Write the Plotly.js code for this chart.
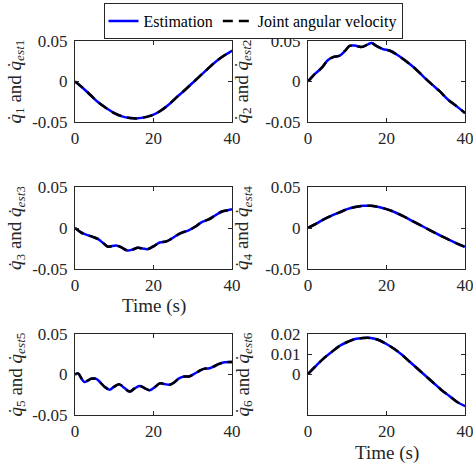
<!DOCTYPE html>
<html>
<head>
<meta charset="utf-8">
<script src="https://cdn.plot.ly/plotly-3.0.1.min.js"></script>
<style>html,body{margin:0;padding:0;background:#fff;}#chart{width:473px;height:464px;}</style>
</head>
<body>
<div id="chart"></div>
<script>
// ---- data ----
const t1 = [0,2,4,6,8,10,12,14,16,18,20,22,24,26,28,30,32,34,36,38,40];
const q1 = [0,-0.008,-0.017,-0.026,-0.033,-0.039,-0.043,-0.045,-0.0455,-0.044,-0.041,-0.0355,-0.028,-0.019,-0.0105,-0.0015,0.0075,0.0165,0.025,0.032,0.038];

const t2 = [0,1.7,3.4,5.1,6.4,8.1,9.4,10.6,11.9,13.6,15.3,16.2,17.4,19.1,20.9,23,25.1,27.2,29.4,31.5,33.6,35.7,37.9,40];
const q2 = [0,0.009,0.0164,0.0266,0.030,0.032,0.0377,0.0439,0.0443,0.0426,0.0459,0.0475,0.0439,0.040,0.038,0.032,0.0246,0.0164,0.0061,-0.0033,-0.0123,-0.0225,-0.0307,-0.039];

const t3 = [0,1.5,2.8,4.5,5.8,7.1,8.3,10.5,11.7,13.4,14.7,16,17.3,18.5,20.3,21.6,23.2,24.5,25.8,27.1,28.8,30.5,32.2,33.9,35.6,37.3,38.6,40];
const q3 = [0,-0.0053,-0.008,-0.0109,-0.0133,-0.018,-0.0226,-0.0214,-0.0234,-0.0274,-0.0262,-0.0242,-0.025,-0.0258,-0.0214,-0.0177,-0.0165,-0.0133,-0.0093,-0.006,-0.0032,0.0012,0.0069,0.0101,0.0149,0.0198,0.0214,0.023];

const t4 = [0,2,4,6,8,10,12,14,16,18,20,22,24,26,28,30,32,34,36,38,40];
const q4 = [0,0.005,0.0105,0.015,0.019,0.023,0.0255,0.027,0.027,0.0255,0.023,0.0195,0.015,0.010,0.005,0.000,-0.005,-0.010,-0.0145,-0.019,-0.023];

const t5 = [0,0.85,1.5,2.4,3.2,4.1,5.4,6.6,7.5,8.8,10,11.3,12.6,13.9,15.1,16.4,17.7,19,20.3,21.6,22.8,24.1,25.4,26.6,27.9,29.1,30.4,31.7,33,34.3,35.5,36.9,38.1,40];
const q5 = [0,0.001,-0.0037,-0.0093,-0.0077,-0.0053,-0.0053,-0.0106,-0.015,-0.0187,-0.015,-0.0122,-0.0167,-0.0211,-0.0175,-0.0142,-0.0167,-0.0195,-0.0158,-0.011,-0.0118,-0.0126,-0.0093,-0.0045,-0.0024,-0.0024,0.0008,0.0045,0.0073,0.0077,0.0102,0.0134,0.015,0.0154];

const t6 = [0,2,4,6,8,10,12,14,16,18,20,22,24,26,28,30,32,34,36,38,40];
const q6 = [0,0.004,0.0078,0.011,0.014,0.016,0.0175,0.018,0.018,0.017,0.015,0.0125,0.0095,0.006,0.0025,-0.001,-0.0045,-0.008,-0.011,-0.014,-0.016];

const seriesNames = ["Estimation", "Joint angular velocity"];
const xTicks = [0, 20, 40];
const yTicksA = [-0.05, 0, 0.05];
const yTickTextA = ["-0.05", "0", "0.05"];
const yTicks6 = [0, 0.01, 0.02];
const yTickText6 = ["0", "0.01", "0.02"];
const yLabels = [
  "<i>q̇</i><sub>1</sub> and <i>q̇</i><sub><i>est</i>1</sub>",
  "<i>q̇</i><sub>2</sub> and <i>q̇</i><sub><i>est</i>2</sub>",
  "<i>q̇</i><sub>3</sub> and <i>q̇</i><sub><i>est</i>3</sub>",
  "<i>q̇</i><sub>4</sub> and <i>q̇</i><sub><i>est</i>4</sub>",
  "<i>q̇</i><sub>5</sub> and <i>q̇</i><sub><i>est</i>5</sub>",
  "<i>q̇</i><sub>6</sub> and <i>q̇</i><sub><i>est</i>6</sub>"
];
const xLabel = "Time (s)";

// ---- layout geometry ----
const W = 473, H = 464;
const colX = [[75, 232], [308, 465]];
const rowY = [[41, 122], [187, 269], [334, 415]];
const FONT = "Liberation Serif";

const T = [t1, t2, t3, t4, t5, t6];
const Q = [q1, q2, q3, q4, q5, q6];

const data = [];
const layout = {
  width: W, height: H,
  margin: {l: 0, r: 0, t: 0, b: 0},
  paper_bgcolor: "#fff", plot_bgcolor: "#fff",
  font: {family: FONT, size: 17, color: "#262626"},
  showlegend: true,
  legend: {
    orientation: "h", x: 253 / W, xanchor: "center", y: 1 - 3 / H, yanchor: "top",
    bordercolor: "#262626", borderwidth: 1, bgcolor: "#fff",
    font: {family: FONT, size: 16, color: "#000"},
    itemwidth: 30, tracegroupgap: 0
  },
  annotations: []
};

for (let i = 0; i < 6; i++) {
  const r = Math.floor(i / 2), c = i % 2;
  const ax = i === 0 ? "" : String(i + 1);
  const xd = [colX[c][0] / W, colX[c][1] / W];
  const yd = [1 - rowY[r][1] / H, 1 - rowY[r][0] / H];
  const common = {
    showgrid: false, zeroline: false, showline: true, linecolor: "#262626", linewidth: 1,
    mirror: "ticks", ticks: "inside", ticklen: 4, tickwidth: 1, tickcolor: "#262626",
    tickfont: {family: FONT, size: 17, color: "#262626"}, fixedrange: true,
    ticklabeloverflow: "allow"
  };
  layout["xaxis" + ax] = Object.assign({}, common, {
    domain: xd, range: [0, 40], tickvals: xTicks, ticktext: xTicks.map(String),
    anchor: "y" + ax, ticklabelstandoff: 1
  });
  const six = i === 5;
  layout["yaxis" + ax] = Object.assign({}, common, {
    domain: yd, range: six ? [-0.0205, 0.02] : [-0.05, 0.05],
    tickvals: six ? yTicks6 : yTicksA, ticktext: six ? yTickText6 : yTickTextA,
    anchor: "x" + ax, ticklabelstandoff: 3
  });
  data.push({
    x: T[i], y: Q[i], xaxis: "x" + ax, yaxis: "y" + ax, mode: "lines",
    name: seriesNames[0], legendgroup: "est", showlegend: i === 0,
    line: {color: "#0000ff", width: 2.5, shape: "spline", smoothing: 1}
  });
  data.push({
    x: T[i], y: Q[i], xaxis: "x" + ax, yaxis: "y" + ax, mode: "lines",
    name: seriesNames[1], legendgroup: "jav", showlegend: i === 0,
    line: {color: "#000000", width: 2.5, dash: "10px,6px", shape: "spline", smoothing: 1}
  });
  layout.annotations.push({
    text: yLabels[i], textangle: -90, xref: "paper", yref: "paper",
    x: (c === 0 ? 16 : 243) / W, y: (yd[0] + yd[1]) / 2, xanchor: "center", yanchor: "middle",
    showarrow: false, font: {family: FONT, size: 19, color: "#262626"}
  });
}
// x-axis titles
layout.annotations.push({text: xLabel, xref: "paper", yref: "paper", x: (75 + 232) / 2 / W, y: 1 - 306 / H,
  xanchor: "center", yanchor: "middle", showarrow: false, font: {family: FONT, size: 19, color: "#262626"}});
layout.annotations.push({text: xLabel, xref: "paper", yref: "paper", x: (308 + 465) / 2 / W, y: 1 - 453 / H,
  xanchor: "center", yanchor: "middle", showarrow: false, font: {family: FONT, size: 19, color: "#262626"}});

Plotly.newPlot("chart", data, layout, {displayModeBar: false, staticPlot: true});
</script>
</body>
</html>
